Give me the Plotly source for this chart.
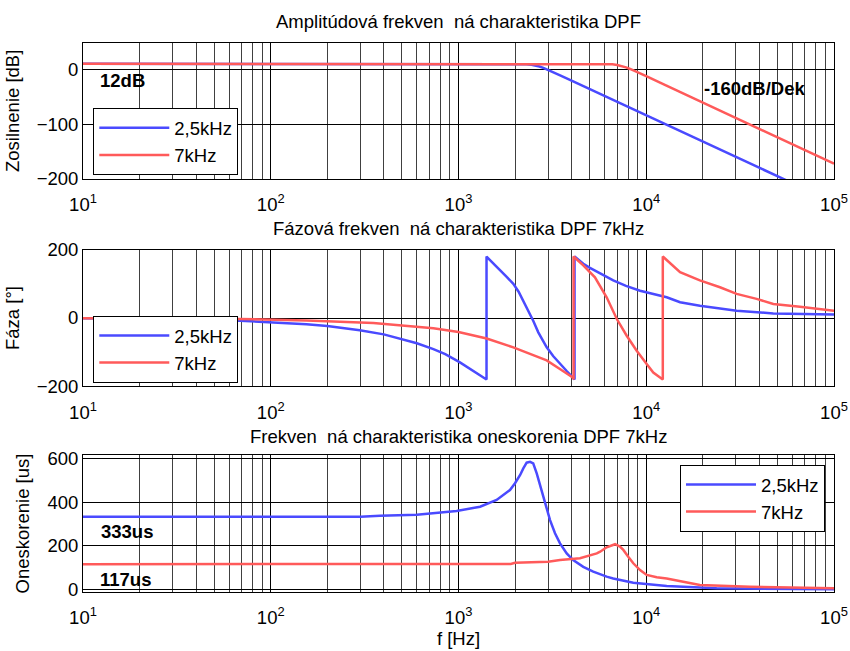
import plotly.graph_objects as go

FONT = "Liberation Sans, Arial, sans-serif"
FS = 18.5
BLUE = "#4a4aff"
RED = "#ff5a5a"

names = ["2,5kHz", "7kHz"]

# ---- Amplitude (dB) ----
f_amp_25 = [10, 100, 1000, 1800, 2100, 2300, 2450, 2570, 2700, 2850, 3000, 3250, 3500, 4000, 5000, 7000, 10000, 20000, 50000, 100000]
amp_25 = [11.3, 11.3, 11.3, 11.3, 11.1, 10.6, 9.6, 8.3, 6.3, 3.4, 0.2, -5.1, -10.2, -19.4, -35, -58.3, -83.2, -131.4, -195.1, -243]
f_amp_7 = [10, 100, 1000, 5000, 6000, 6600, 7000, 7200, 7500, 7800, 8200, 8500, 9000, 10000, 12000, 15000, 20000, 50000, 100000]
amp_7 = [11.3, 11.3, 11.3, 11.3, 11.1, 10.3, 9.2, 8.3, 6.6, 4.7, 1.8, -0.5, -4.3, -11.5, -24.2, -39.7, -59.7, -123.4, -172]

# ---- Phase (deg) ----
f_ph_25 = [10, 30, 68.6, 100, 155, 200, 298, 400, 488, 600, 735, 850, 1018, 1200, 1384, 1410,
           1410, 1520, 1663, 1800, 1959, 2090, 2214, 2360, 2500, 2661, 2950, 3200, 3472, 3780, 4080, 4150,
           4150, 4620, 5012, 5800, 6670, 7800, 9270, 12850, 15140, 19300, 24700, 30300, 47500, 100000]
ph_25 = [-1, -3.5, -8, -12, -18, -23.5, -36, -48, -60, -74, -91, -106, -130, -154, -175, -180,
         180, 163, 140, 121, 100, 77, 51, 22, -8, -42, -86, -112, -135, -156, -175, -180,
         180, 159, 147, 127, 110, 94, 80, 60.6, 46, 36, 28, 21, 13.5, 10]
f_ph_7 = [10, 68.6, 155, 352, 735, 1000, 1413, 1959, 2500, 2950, 3500, 4080, 4100,
          4100, 4620, 5330, 6152, 6970, 7870, 8894, 10050, 10900, 12250,
          12250, 15140, 19300, 24700, 30300, 38700, 47500, 65900, 100000]
ph_7 = [-0.4, -3, -7, -15, -30, -41, -60, -86, -108.6, -124, -150.6, -175, -180,
        180, 154, 119, 60.6, -3, -52, -96, -135, -160, -180,
        180, 134, 110, 90, 70.5, 56, 41, 33, 21]

# ---- Group delay (us) ----
f_gd_25 = [10, 300, 382, 600, 977, 1303, 1596, 1880, 2000, 2130, 2214, 2307, 2404, 2500, 2610, 2717, 2830, 2950, 3073, 3266, 3473, 3770, 4080, 4620, 5220, 6152, 6670, 8530, 12850, 23700, 100000]
gd_25 = [333, 333, 338, 342, 360, 379, 410, 455, 486, 524, 554, 580, 584, 577, 531, 478, 425, 372, 318, 258, 212, 166, 136, 105, 83, 60, 52, 32, 17, 7, 2]
f_gd_7 = [10, 1900, 2000, 3000, 3473, 4436, 5450, 5680, 6152, 6820, 7244, 7550, 8020, 8530, 9270, 10050, 11370, 12850, 15740, 19300, 35700, 100000]
gd_7 = [117, 118, 123, 128, 136, 144, 166, 174, 194, 208, 197, 182, 151, 121, 90, 68, 57, 52, 37, 22, 14, 7]

titles = ["Amplitúdová frekven\u00a0 ná charakteristika DPF",
          "Fázová frekven\u00a0 ná charakteristika DPF 7kHz",
          "Frekven\u00a0 ná charakteristika oneskorenia DPF 7kHz"]
ytitles = ["Zosilnenie [dB]", "Fáza [°]", "Oneskorenie [us]"]
yranges = [[-200, 50], [-200, 200], [-10, 615]]
yticks = [[-200, -100, 0], [-200, 0, 200], [0, 200, 400, 600]]

xt_vals = [10, 100, 1000, 10000, 100000]
xt_text = ["10<sup>1</sup>", "10<sup>2</sup>", "10<sup>3</sup>", "10<sup>4</sup>", "10<sup>5</sup>"]
minor_vals = [m * 10 ** e for e in range(1, 5) for m in range(2, 10)]

W, H = 850, 651
boxes = [(42.7, 179.0), (249.7, 386.3), (455.0, 592.0)]
xl, xr = 83.0, 834.0

fig = go.Figure()
data = [(f_amp_25, amp_25, f_amp_7, amp_7), (f_ph_25, ph_25, f_ph_7, ph_7), (f_gd_25, gd_25, f_gd_7, gd_7)]
for i, (fa, ya, fb, yb) in enumerate(data):
    sfx = "" if i == 0 else str(i + 1)
    leg = "legend" + sfx
    fig.add_trace(go.Scatter(x=fa, y=ya, mode="lines", name=names[0], legend=leg,
                             xaxis="x" + sfx, yaxis="y" + sfx, line=dict(color=BLUE, width=2.5)))
    fig.add_trace(go.Scatter(x=fb, y=yb, mode="lines", name=names[1], legend=leg,
                             xaxis="x" + sfx, yaxis="y" + sfx, line=dict(color=RED, width=2.5)))

layout = dict(width=W, height=H, margin=dict(l=0, r=0, t=0, b=0),
              paper_bgcolor="white", plot_bgcolor="white",
              font=dict(family=FONT, size=FS, color="black"))

legend_pos = [(93.3, 108.3), (93.3, 316.0), (680.0, 465.0)]
for i in range(3):
    sfx = "" if i == 0 else str(i + 1)
    top, bot = boxes[i]
    layout["xaxis" + sfx] = dict(
        type="log", range=[1, 5], domain=[xl / W, xr / W], anchor="y" + sfx,
        tickmode="array", tickvals=xt_vals, ticktext=xt_text,
        showgrid=True, gridcolor="black", gridwidth=1,
        minor=dict(tickmode="array", tickvals=minor_vals, showgrid=True, gridcolor="#404040", gridwidth=1),
        showline=True, mirror=True, linecolor="black", linewidth=1, ticks="",
        zeroline=False, automargin=False, tickfont=dict(size=FS, family=FONT, color="black"),
        ticklabelstandoff=9,
    )
    layout["yaxis" + sfx] = dict(
        range=yranges[i], domain=[1 - bot / H, 1 - top / H], anchor="x" + sfx,
        tickmode="array", tickvals=yticks[i],
        showgrid=True, gridcolor="black", gridwidth=1,
        showline=True, mirror=True, linecolor="black", linewidth=1, ticks="",
        zeroline=False, automargin=False, tickfont=dict(size=FS, family=FONT, color="black"),
        title=dict(text=ytitles[i], font=dict(size=FS, family=FONT, color="black"), standoff=12),
    )
    lx, ly = legend_pos[i]
    layout["legend" + sfx] = dict(
        x=lx / W, y=1 - ly / H, xanchor="left", yanchor="top",
        bordercolor="black", borderwidth=1, bgcolor="white",
        font=dict(size=FS, family=FONT, color="black"), tracegroupgap=0,
        itemwidth=70,
    )

layout["xaxis3"]["title"] = dict(text="f [Hz]", font=dict(size=FS, family=FONT, color="black"), standoff=1)

ann = []
title_y = [21.5, 228.0, 436.5]
for t, ty in zip(titles, title_y):
    ann.append(dict(text=t, xref="paper", yref="paper", x=(xl + xr) / 2 / W, y=1 - ty / H,
                    xanchor="center", yanchor="middle", showarrow=False,
                    font=dict(size=FS, family=FONT, color="black")))

bold = [("<b>12dB</b>", "x", "y", 1.08, -20),
        ("<b>-160dB/Dek</b>", "x", "y", 4.297, -34.7),
        ("<b>333us</b>", "x3", "y3", 1.085, 265),
        ("<b>117us</b>", "x3", "y3", 1.08, 49)]
for txt, xr_, yr_, xv, yv in bold:
    ann.append(dict(text=txt, xref=xr_, yref=yr_, x=xv, y=yv, xanchor="left", yanchor="middle",
                    showarrow=False, font=dict(size=FS, family=FONT, color="black")))
layout["annotations"] = ann

fig.update_layout(**layout)
fig.write_html("out.html")
